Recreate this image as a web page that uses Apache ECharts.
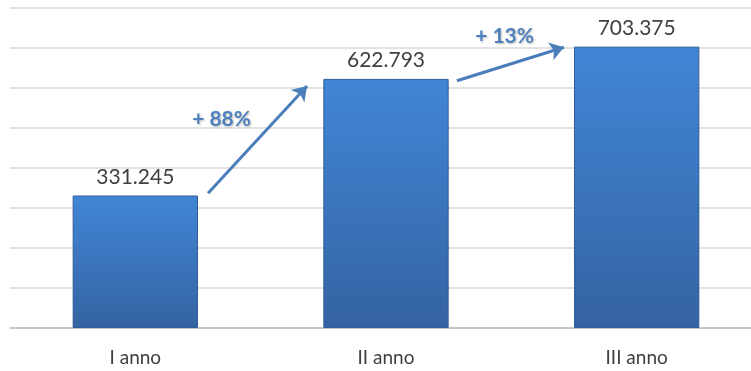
<!DOCTYPE html>
<html><head><meta charset="utf-8">
<script src="https://cdn.jsdelivr.net/npm/echarts@6/dist/echarts.min.js"></script>
<style>html,body{margin:0;padding:0;background:#fff}#c{width:751px;height:371px}</style>
</head><body><div id="c"></div>
<script>
var categories = ['I anno', 'II anno', 'III anno'];
var values = [331.245, 622.793, 703.375];
var valueLabels = ['331.245', '622.793', '703.375'];
// growth arrows: [fromX, fromY, toX, toY] in (category position, value) units
var arrows = [[0.29, 337, 0.685, 605], [1.283, 618, 1.71, 702]];
var growthLabels = ['+ 88%', '+ 13%'];
var growthPos = [[0.344, 522], [1.473, 730]];

var chart = echarts.init(document.getElementById('c'));
var font = 'Lato, "Open Sans", sans-serif';
chart.setOption({
  animation: false,
  grid: {left: 10, right: -11, top: 8, bottom: 43, containLabel: false, outerBoundsMode: 'none'},
  xAxis: [{
    type: 'category', data: categories,
    axisLine: {lineStyle: {color: '#bfbfbf', width: 1.5}},
    axisTick: {show: false},
    axisLabel: {color: '#404040', fontSize: 19, fontFamily: font, margin: 20}
  }, {
    type: 'value', min: -0.5, max: 2.5, show: false
  }],
  yAxis: {
    type: 'value', min: 0, max: 800, interval: 100,
    axisLabel: {show: false}, axisLine: {show: false}, axisTick: {show: false},
    splitLine: {lineStyle: {color: '#d9d9d9', width: 1.5}}
  },
  series: [{
    type: 'bar', data: values, barWidth: '50%',
    itemStyle: {
      color: new echarts.graphic.LinearGradient(0, 0, 0, 1, [
        {offset: 0, color: '#4186d6'}, {offset: 1, color: '#3463a2'}]),
      borderColor: '#2f5d98', borderWidth: 1
    },
    label: {
      show: true, position: 'top', distance: 8, color: '#404040',
      fontSize: 21, fontFamily: font,
      formatter: function (p) { return valueLabels[p.dataIndex]; }
    }
  }, {
    type: 'scatter', xAxisIndex: 1, data: [], silent: true,
    markLine: {
      silent: true, symbol: ['none', 'arrow'], symbolSize: [14, 14],
      lineStyle: {color: '#4a7ebb', width: 3, type: 'solid'},
      label: {show: false},
      data: arrows.map(function (a) { return [{coord: [a[0], a[1]]}, {coord: [a[2], a[3]]}]; })
    },
    markPoint: {
      silent: true, symbol: 'circle', symbolSize: 0,
      label: {show: true, position: 'inside', color: '#4f81bd', fontSize: 21, fontWeight: 'bold',
        fontFamily: font, textShadowColor: 'rgba(0,0,0,0.25)', textShadowBlur: 2, textShadowOffsetX: 1, textShadowOffsetY: 1,
        formatter: function (p) { return p.name; }},
      data: growthPos.map(function (g, i) { return {name: growthLabels[i], coord: g}; })
    }
  }]
});
</script></body></html>
